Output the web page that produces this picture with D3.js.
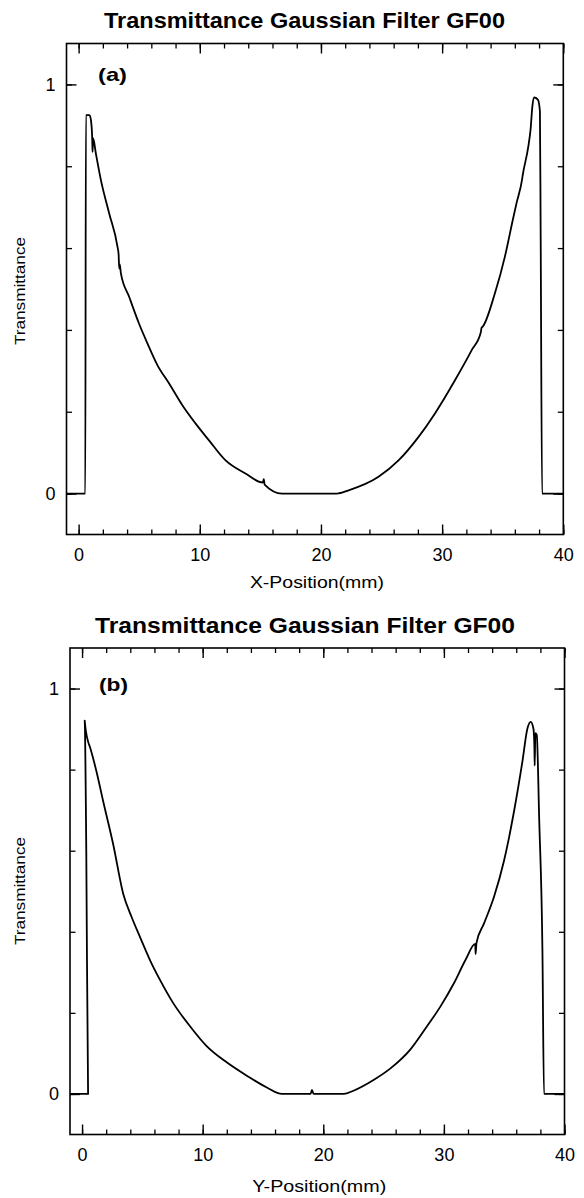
<!DOCTYPE html>
<html>
<head>
<meta charset="utf-8">
<script src="https://cdn.jsdelivr.net/npm/d3@7"></script>
<style>
  html, body { margin: 0; padding: 0; background: #fff; }
  text { font-family: "Liberation Sans", Arial, Helvetica, sans-serif; fill: #000; }
</style>
</head>
<body>
<svg id="chart" width="584" height="1198"></svg>
<script>
// ---------- data ----------
const titleText = "Transmittance Gaussian Filter GF00";
const yLabelText = "Transmittance";
const panelNames = ["(a)", "(b)"];
const xAxisTitles = ["X-Position(mm)", "Y-Position(mm)"];

const xTickMajor = [0, 10, 20, 30, 40];
const xTickMinor = [0, 2, 4, 6, 8, 10, 12, 14, 16, 18, 20, 22, 24, 26, 28, 30, 32, 34, 36, 38, 40];
const yTickMajor = [0, 1];
const yTickMinor = [0, 0.2, 0.4, 0.6, 0.8, 1];

// Panel (a): X-position scan
const posA = [-1, 0.55, 0.6, 0.9, 1.02, 1.12, 1.15, 1.2, 1.43, 1.84, 2.53, 3.21, 3.3, 3.35, 3.4, 3.49,
  4.17, 4.99, 5.68, 6.5, 7.47, 8.56, 9.66, 10.76, 12.13, 13.77, 15.2, 15.28, 15.35, 16.79,
  21.3, 22.28, 24.75, 26.4, 28.04, 29.41, 31.06, 32.43, 33.2, 33.25, 33.35, 34.35, 35.17,
  35.84, 36.15, 36.6, 36.65, 37.1, 37.3, 37.45, 37.6, 37.9, 38.07, 38.13, 38.25, 40];
const transA = [0, 0, 0.925, 0.925, 0.912, 0.87, 0.835, 0.868, 0.83, 0.766, 0.684, 0.603, 0.585, 0.55, 0.56, 0.538,
  0.481, 0.415, 0.367, 0.314, 0.269, 0.216, 0.171, 0.130, 0.081, 0.049, 0.027, 0.035, 0.022, 0,
  0, 0.008, 0.041, 0.081, 0.138, 0.196, 0.277, 0.35, 0.395, 0.405, 0.408, 0.489, 0.578,
  0.67, 0.711, 0.768, 0.778, 0.846, 0.89, 0.947, 0.968, 0.963, 0.935, 0.645, 0, 0];

// Panel (b): Y-position scan
const posB = [-1, 0.5, 0.35, 0.22, 0.5, 0.64, 1.19, 1.75, 2.58, 3.41, 4.1, 4.79, 5.62, 6.45, 7.56, 8.95,
  10.33, 11.99, 13.66, 15.32, 16.57, 18.95, 19.06, 19.2, 21.7, 22.5, 24.2, 25.57, 27.23, 28.6,
  29.72, 30.83, 31.8, 32.6, 32.63, 32.7, 33.32, 34.15, 34.99, 35.82, 36.51, 36.93, 37.2,
  37.42, 37.5, 37.53, 37.58, 37.7, 37.9, 38.17, 38.3, 40];
const transB = [0, 0, 0.6, 0.921, 0.869, 0.857, 0.796, 0.722, 0.616, 0.494, 0.437, 0.388, 0.331, 0.282, 0.224, 0.167,
  0.118, 0.078, 0.045, 0.016, 0, 0, 0.01, 0, 0, 0.008, 0.035, 0.063, 0.11, 0.167,
  0.216, 0.273, 0.331, 0.37, 0.345, 0.372, 0.42, 0.486, 0.576, 0.698, 0.82, 0.902, 0.918,
  0.902, 0.86, 0.81, 0.89, 0.886, 0.68, 0.355, 0, 0];

const posSeries = [posA, posB];
const transSeries = [transA, transB];

// ---------- layout ----------
const panels = [
  { left: 66.5, right: 563.3, top: 43.5, bottom: 534.5, titleX: 304.5, titleY: 28, titleW: 401,
    labelX: 98, labelY: 81, xTitleY: 588, yTitleY: 291 },
  { left: 70, right: 564.5, top: 648, bottom: 1134.5, titleX: 305, titleY: 633, titleW: 420,
    labelX: 99, labelY: 691, xTitleY: 1192, yTitleY: 891 }
];

const svg = d3.select("#chart");
svg.append("rect").attr("width", 584).attr("height", 1198).attr("fill", "#fff");

panels.forEach((p, i) => {
  const x = d3.scaleLinear().domain([-1, 40]).range([p.left, p.right]);
  const y = d3.scaleLinear().domain([-0.1, 1.1]).range([p.bottom, p.top]);
  const g = svg.append("g");

  // title
  g.append("text")
    .attr("x", p.titleX).attr("y", p.titleY)
    .attr("text-anchor", "middle")
    .attr("font-size", 22).attr("font-weight", "bold")
    .attr("textLength", p.titleW).attr("lengthAdjust", "spacingAndGlyphs")
    .text(titleText);

  // minor ticks (all four sides)
  const minorStyle = sel => { sel.select(".domain").remove(); sel.selectAll("text").remove();
    sel.selectAll("line").attr("stroke", "#000").attr("stroke-width", 1.3); };
  g.append("g").attr("transform", `translate(0,${p.bottom})`)
    .call(d3.axisBottom(x).tickValues(xTickMinor).tickSizeInner(-5).tickSizeOuter(0)).call(minorStyle);
  g.append("g").attr("transform", `translate(0,${p.top})`)
    .call(d3.axisTop(x).tickValues(xTickMinor).tickSizeInner(-5).tickSizeOuter(0)).call(minorStyle);
  g.append("g").attr("transform", `translate(${p.left},0)`)
    .call(d3.axisLeft(y).tickValues(yTickMinor).tickSizeInner(-5.5).tickSizeOuter(0)).call(minorStyle);
  g.append("g").attr("transform", `translate(${p.right},0)`)
    .call(d3.axisRight(y).tickValues(yTickMinor).tickSizeInner(-5.5).tickSizeOuter(0)).call(minorStyle);

  // major ticks
  const majorStyle = sel => { sel.select(".domain").remove();
    sel.selectAll("line").attr("stroke", "#000").attr("stroke-width", 1.4);
    sel.selectAll("text").attr("font-size", 18).attr("fill", "#000")
      .attr("font-family", "'Liberation Sans', Arial, sans-serif"); };
  g.append("g").attr("transform", `translate(0,${p.bottom})`)
    .call(d3.axisBottom(x).tickValues(xTickMajor).tickFormat(d3.format("d"))
      .tickSizeInner(-10).tickSizeOuter(0).tickPadding(13.5)).call(majorStyle);
  g.append("g").attr("transform", `translate(0,${p.top})`)
    .call(d3.axisTop(x).tickValues(xTickMajor).tickFormat("")
      .tickSizeInner(-10).tickSizeOuter(0)).call(majorStyle);
  g.append("g").attr("transform", `translate(${p.left},0)`)
    .call(d3.axisLeft(y).tickValues(yTickMajor).tickFormat(d3.format("d"))
      .tickSizeInner(-10).tickSizeOuter(0).tickPadding(11)).call(majorStyle);
  g.append("g").attr("transform", `translate(${p.right},0)`)
    .call(d3.axisRight(y).tickValues(yTickMajor).tickFormat("")
      .tickSizeInner(-10).tickSizeOuter(0)).call(majorStyle);

  // frame
  g.append("rect")
    .attr("x", x(-1)).attr("y", y(1.1))
    .attr("width", x(40) - x(-1)).attr("height", y(-0.1) - y(1.1))
    .attr("fill", "none").attr("stroke", "#000").attr("stroke-width", 1.6);

  // curve (monotone smoothing through the read points, no overshoot)
  const pts = posSeries[i].map((v, k) => [v, transSeries[i][k]]);
  g.append("path")
    .datum(pts)
    .attr("fill", "none").attr("stroke", "#000").attr("stroke-width", 1.8)
    .attr("stroke-linejoin", "round")
    .attr("d", d3.line().x(d => x(d[0])).y(d => y(d[1])).curve(d3.curveMonotoneX));

  // panel label
  g.append("text")
    .attr("x", p.labelX).attr("y", p.labelY)
    .attr("font-size", 19).attr("font-weight", "bold")
    .attr("textLength", 29).attr("lengthAdjust", "spacingAndGlyphs")
    .text(panelNames[i]);

  // x-axis title
  g.append("text")
    .attr("x", (p.left + p.right) / 2 + 2).attr("y", p.xTitleY)
    .attr("text-anchor", "middle").attr("font-size", 16)
    .attr("textLength", 134).attr("lengthAdjust", "spacingAndGlyphs")
    .text(xAxisTitles[i]);

  // y-axis title
  g.append("text")
    .attr("transform", `translate(25,${p.yTitleY}) rotate(-90)`)
    .attr("text-anchor", "middle").attr("font-size", 15)
    .attr("textLength", 108).attr("lengthAdjust", "spacingAndGlyphs")
    .text(yLabelText);
});
</script>
</body>
</html>
